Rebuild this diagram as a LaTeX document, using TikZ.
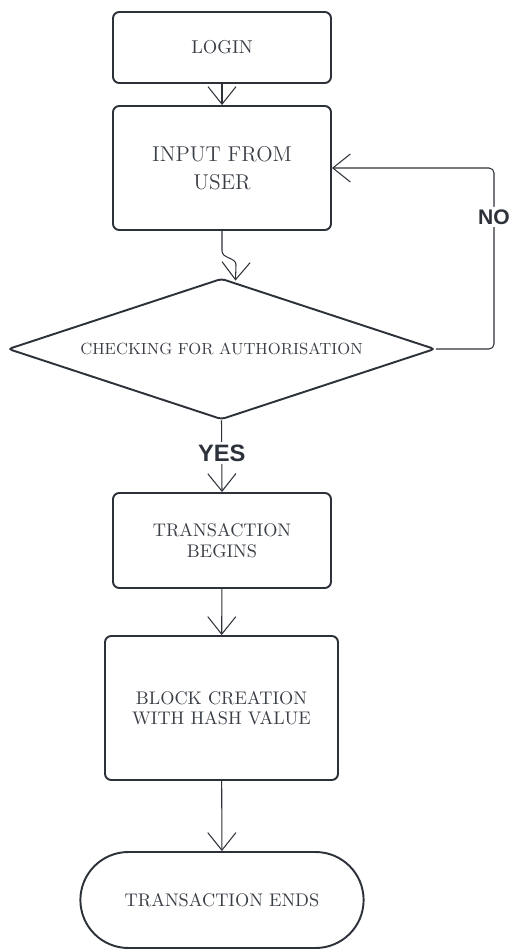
\documentclass[tikz,border=0pt]{standalone}
\usepackage{fontspec}
\newfontfamily\answerfont{Liberation Sans}
\usetikzlibrary{shapes.geometric,shapes.misc,arrows.meta}

\tikzset{
  box/.style={draw=myedge, line width=1.1pt, rounded corners=3.5pt,
    minimum width=4.36cm, align=center, text=mytext},
  conn/.style={draw=myedge, line width=0.6pt,
    -{Straight Barb[length=10pt,width=16pt]}},
  answer/.style={font=\answerfont\bfseries\fontsize{12}{14}\selectfont,
    text=myedge, fill=white, inner sep=1.5pt},
}

\begin{document}
\begin{tikzpicture}[x=0.02cm, y=-0.02cm]
    \definecolor{myedge}{RGB}{45,50,58}
    \definecolor{mytext}{RGB}{58,62,70}

    \useasboundingbox (0,0) rectangle (514,949);

    \node[box, minimum height=1.42cm, font=\fontsize{10.6}{13}\selectfont]
        (login) at (222,47.5) {LOGIN};
    \node[box, minimum height=2.48cm, font=\fontsize{12.2}{16}\selectfont]
        (input) at (222,168) {INPUT FROM\\USER};
    \node[diamond, draw=myedge, line width=1.1pt, rounded corners=2pt, aspect=3,
        minimum width=8.54cm, minimum height=2.82cm, inner sep=0pt, text=mytext,
        font=\fontsize{9.2}{11}\selectfont]
        (chk) at (221.5,349) {CHECKING FOR AUTHORISATION};
    \node[box, minimum height=1.9cm, font=\fontsize{10.4}{12}\selectfont]
        (begins) at (222,540.5) {TRANSACTION\\BEGINS};
    \node[box, minimum width=4.66cm, minimum height=2.88cm,
        font=\fontsize{10.4}{11.5}\selectfont]
        (block) at (221.5,708) {BLOCK CREATION\\WITH HASH VALUE};
    \node[rounded rectangle, draw=myedge, line width=1.1pt, minimum width=5.9cm,
        minimum height=1.92cm, text=mytext, font=\fontsize{10.4}{12}\selectfont]
        (ends) at (222,900) {TRANSACTION ENDS};

    \coordinate (loop) at (494,168);

    \draw[conn] (login) -- (input);
    \draw[conn] (input.south) -- ++(0,20) to[out=-90,in=90] ++(14,14)
        -- ([xshift=0.28cm,yshift=-0.06cm]chk.north);
    \draw[conn, rounded corners=0.1cm] (chk.east) -| node[answer, pos=0.865] {NO}
        (loop) -- (input.east);
    \draw[conn] (chk.south) -- node[answer, pos=0.46,
        font=\answerfont\bfseries\fontsize{13.5}{15}\selectfont] {YES} (begins.north);
    \draw[conn] (begins) -- (block);
    \draw[conn] (block) -- (ends);
\end{tikzpicture}
\end{document}
